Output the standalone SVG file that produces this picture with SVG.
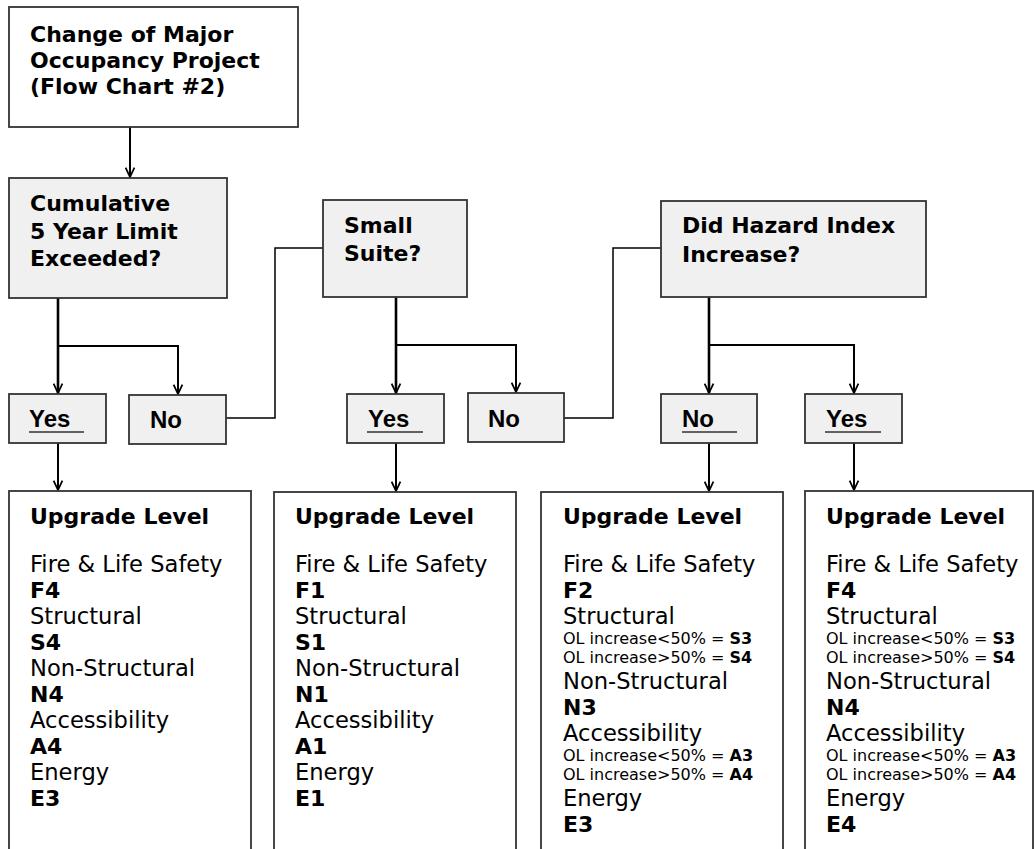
<svg xmlns="http://www.w3.org/2000/svg" width="1034" height="849" viewBox="0 0 1034 849">
<defs>
<style>
.box{fill:#ffffff;stroke:#333333;stroke-width:1.8}
.gbox{fill:#f0f0f0;stroke:#333333;stroke-width:1.8}
.t{font-family:"DejaVu Sans",Verdana,sans-serif;font-size:22.6px;fill:#000}
.b{font-weight:bold;font-size:22px}
.s{font-size:16px}
.s .b{font-size:16px}
.yn{font-family:"Liberation Sans",Arial,sans-serif;font-size:24px;font-weight:bold;fill:#000}
.ul{stroke:#333333;stroke-width:1.5}
.c{fill:none;stroke:#000;stroke-width:2}
.thick{stroke-width:2.6}
.thin{stroke-width:1.5}
</style>
<marker id="arr" markerUnits="userSpaceOnUse" viewBox="0 0 10 10" refX="9.5" refY="5" markerWidth="11" markerHeight="11" orient="auto">
<path d="M1,1 L9.5,5 L1,9" fill="none" stroke="#000" stroke-width="1.6"/>
</marker>
</defs>
<rect width="1034" height="849" fill="#ffffff"/>

<g id="connectors">
<path class="c" d="M130,127 V177" marker-end="url(#arr)"/>
<path class="c thick" d="M58,298 V393" marker-end="url(#arr)"/>
<path class="c" d="M58,346 H178 V394" marker-end="url(#arr)"/>
<path class="c thin" d="M226,418 H275 V248 H323"/>
<path class="c thick" d="M396,297 V393" marker-end="url(#arr)"/>
<path class="c" d="M396,345 H516 V392" marker-end="url(#arr)"/>
<path class="c thin" d="M564,418 H613 V248 H661"/>
<path class="c thick" d="M709,297 V393" marker-end="url(#arr)"/>
<path class="c" d="M709,345 H854 V393" marker-end="url(#arr)"/>
<path class="c" d="M58,443 V490" marker-end="url(#arr)"/>
<path class="c" d="M396,443 V491" marker-end="url(#arr)"/>
<path class="c" d="M709,443 V491" marker-end="url(#arr)"/>
<path class="c" d="M854,443 V490" marker-end="url(#arr)"/>
</g>

<g id="start">
<rect class="box" x="9" y="7" width="289" height="120"/>
<text class="t b" x="30" y="42">Change of Major</text>
<text class="t b" x="30" y="68">Occupancy Project</text>
<text class="t b" x="30" y="94">(Flow Chart #2)</text>
</g>

<g id="cumulative">
<rect class="gbox" x="9" y="178" width="218" height="120"/>
<text class="t b" x="30" y="211">Cumulative</text>
<text class="t b" x="30" y="239">5 Year Limit</text>
<text class="t b" x="30" y="266">Exceeded?</text>
</g>

<g id="small-suite">
<rect class="gbox" x="323" y="200" width="144" height="97"/>
<text class="t b" x="344" y="233">Small</text>
<text class="t b" x="344" y="261">Suite?</text>
</g>

<g id="hazard">
<rect class="gbox" x="661" y="201" width="265" height="96"/>
<text class="t b" x="682" y="233">Did Hazard Index</text>
<text class="t b" x="682" y="262">Increase?</text>
</g>

<g id="yes1">
<rect class="gbox" x="9" y="394" width="97" height="49"/>
<text class="yn" x="29" y="427">Yes</text>
<line class="ul" x1="29" y1="432" x2="84" y2="432"/>
</g>
<g id="no1">
<rect class="gbox" x="129" y="395" width="97" height="49"/>
<text class="yn" x="150" y="428">No</text>
</g>
<g id="yes2">
<rect class="gbox" x="347" y="394" width="97" height="49"/>
<text class="yn" x="368" y="427">Yes</text>
<line class="ul" x1="367" y1="432" x2="423" y2="432"/>
</g>
<g id="no2">
<rect class="gbox" x="468" y="393" width="96" height="49"/>
<text class="yn" x="488" y="427">No</text>
</g>
<g id="no3">
<rect class="gbox" x="661" y="394" width="96" height="49"/>
<text class="yn" x="682" y="427">No</text>
<line class="ul" x1="682" y1="432" x2="737" y2="432"/>
</g>
<g id="yes3">
<rect class="gbox" x="805" y="394" width="97" height="49"/>
<text class="yn" x="826" y="427">Yes</text>
<line class="ul" x1="825" y1="432" x2="881" y2="432"/>
</g>

<g id="level1">
<rect class="box" x="9" y="491" width="242" height="400"/>
<text class="t b" x="30" y="524">Upgrade Level</text>
<text class="t" x="30" y="572">Fire &amp; Life Safety</text>
<text class="t b" x="30" y="598">F4</text>
<text class="t" x="30" y="624">Structural</text>
<text class="t b" x="30" y="650">S4</text>
<text class="t" x="30" y="676">Non-Structural</text>
<text class="t b" x="30" y="702">N4</text>
<text class="t" x="30" y="728">Accessibility</text>
<text class="t b" x="30" y="754">A4</text>
<text class="t" x="30" y="780">Energy</text>
<text class="t b" x="30" y="806">E3</text>
</g>

<g id="level2">
<rect class="box" x="274" y="492" width="242" height="400"/>
<text class="t b" x="295" y="524">Upgrade Level</text>
<text class="t" x="295" y="572">Fire &amp; Life Safety</text>
<text class="t b" x="295" y="598">F1</text>
<text class="t" x="295" y="624">Structural</text>
<text class="t b" x="295" y="650">S1</text>
<text class="t" x="295" y="676">Non-Structural</text>
<text class="t b" x="295" y="702">N1</text>
<text class="t" x="295" y="728">Accessibility</text>
<text class="t b" x="295" y="754">A1</text>
<text class="t" x="295" y="780">Energy</text>
<text class="t b" x="295" y="806">E1</text>
</g>

<g id="level3">
<rect class="box" x="541" y="492" width="242" height="400"/>
<text class="t b" x="563" y="524">Upgrade Level</text>
<text class="t" x="563" y="572">Fire &amp; Life Safety</text>
<text class="t b" x="563" y="598">F2</text>
<text class="t" x="563" y="624">Structural</text>
<text class="t s" x="563" y="644">OL increase&lt;50% = <tspan class="b">S3</tspan></text>
<text class="t s" x="563" y="663">OL increase&gt;50% = <tspan class="b">S4</tspan></text>
<text class="t" x="563" y="689">Non-Structural</text>
<text class="t b" x="563" y="715">N3</text>
<text class="t" x="563" y="741">Accessibility</text>
<text class="t s" x="563" y="761">OL increase&lt;50% = <tspan class="b">A3</tspan></text>
<text class="t s" x="563" y="780">OL increase&gt;50% = <tspan class="b">A4</tspan></text>
<text class="t" x="563" y="806">Energy</text>
<text class="t b" x="563" y="832">E3</text>
</g>

<g id="level4">
<rect class="box" x="805" y="491" width="228" height="400"/>
<text class="t b" x="826" y="524">Upgrade Level</text>
<text class="t" x="826" y="572">Fire &amp; Life Safety</text>
<text class="t b" x="826" y="598">F4</text>
<text class="t" x="826" y="624">Structural</text>
<text class="t s" x="826" y="644">OL increase&lt;50% = <tspan class="b">S3</tspan></text>
<text class="t s" x="826" y="663">OL increase&gt;50% = <tspan class="b">S4</tspan></text>
<text class="t" x="826" y="689">Non-Structural</text>
<text class="t b" x="826" y="715">N4</text>
<text class="t" x="826" y="741">Accessibility</text>
<text class="t s" x="826" y="761">OL increase&lt;50% = <tspan class="b">A3</tspan></text>
<text class="t s" x="826" y="780">OL increase&gt;50% = <tspan class="b">A4</tspan></text>
<text class="t" x="826" y="806">Energy</text>
<text class="t b" x="826" y="832">E4</text>
</g>
</svg>
